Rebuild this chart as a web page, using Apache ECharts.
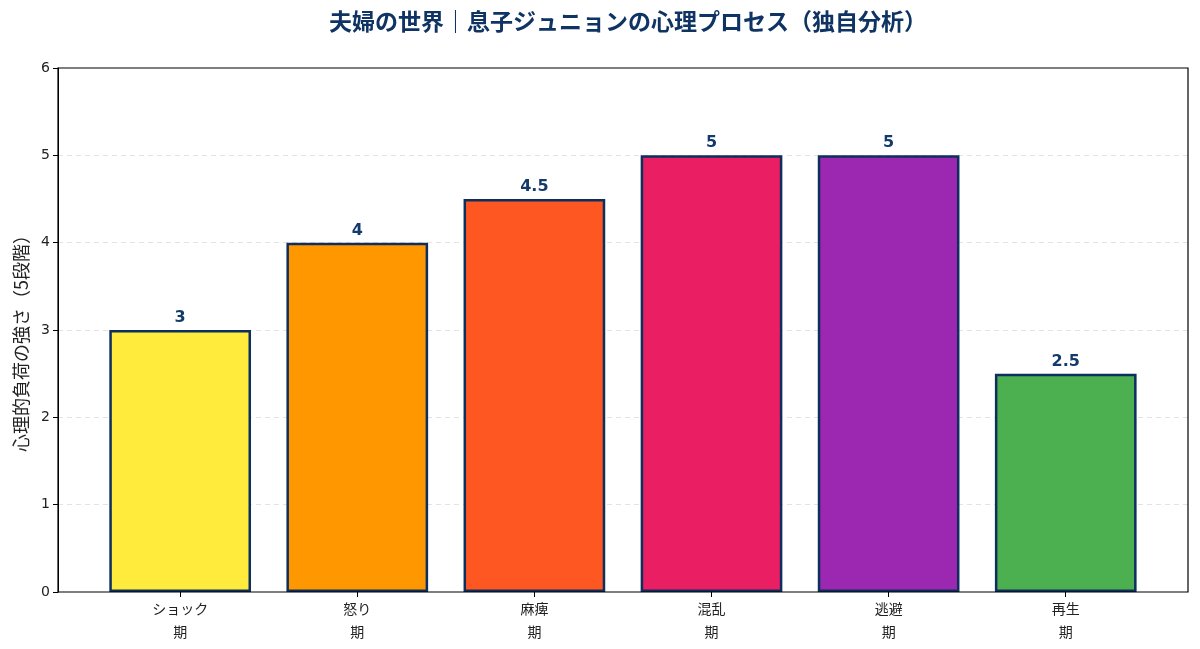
<!DOCTYPE html>
<html>
<head>
<meta charset="utf-8">
<script src="https://cdn.jsdelivr.net/npm/echarts@6/dist/echarts.min.js"></script>
<style>
  html, body { margin: 0; padding: 0; background: #fff; }
  #chart { width: 1200px; height: 649px; }
</style>
</head>
<body>
<div id="chart"></div>
<script>
// 各段階の名前と負荷の値
const stages = ['ショック\n期', '怒り\n期', '麻痺\n期', '混乱\n期', '逃避\n期', '再生\n期'];
const loads = [3, 4, 4.5, 5, 5, 2.5];
const barColors = ['#FFEB3B', '#FF9800', '#FF5722', '#E91E63', '#9C27B0', '#4CAF50'];
const yTicks = [0, 1, 2, 3, 4, 5, 6];

const FONT = '"Noto Sans CJK JP", "DejaVu Sans", sans-serif';
const NUM_FONT = '"DejaVu Sans", sans-serif';
const NAVY = '#0D2F5E';

const chart = echarts.init(document.getElementById('chart'));

chart.setOption({
  animation: false,
  textStyle: { fontFamily: FONT },
  title: {
    text: '夫婦の世界｜息子ジュニョンの心理プロセス（独自分析）',
    left: 623,
    textAlign: 'center',
    top: 5,
    textStyle: { fontSize: 23, fontWeight: 'bold', color: '#0F3463', fontFamily: FONT }
  },
  grid: [
    // 枠とY軸用
    { left: 58, right: 12, top: 68, bottom: 57, show: true, borderColor: '#000', borderWidth: 1.2, z: 10, outerBoundsMode: 'none' },
    // 棒グラフ用（matplotlibの余白に合わせる）
    { left: 91.6, right: 45.7, top: 68, bottom: 57, outerBoundsMode: 'none' }
  ],
  xAxis: [
    { gridIndex: 0, type: 'value', min: 0, max: 1, show: false },
    {
      gridIndex: 1,
      type: 'category',
      data: stages,
      axisLine: { show: false },
      axisTick: { show: true, alignWithLabel: true, length: 5, lineStyle: { color: '#000' } },
      axisLabel: { fontSize: 14, color: '#222', lineHeight: 23, margin: 5, fontFamily: FONT }
    }
  ],
  yAxis: [
    {
      gridIndex: 0,
      type: 'value',
      min: yTicks[0],
      max: yTicks[yTicks.length - 1],
      interval: 1,
      name: '心理的負荷の強さ（5段階）',
      nameLocation: 'middle',
      nameGap: 27,
      nameTextStyle: { fontSize: 18, color: '#222', fontFamily: FONT, padding: [0, 0, 0, -18] },
      axisLine: { show: true, lineStyle: { color: '#000' } },
      axisTick: { show: true, length: 5, lineStyle: { color: '#000' } },
      axisLabel: { fontSize: 14, color: '#222', margin: 8, fontFamily: NUM_FONT },
      splitLine: {
        show: true,
        showMinLine: false,
        showMaxLine: false,
        lineStyle: { color: '#e3e3e3', type: [5, 4], width: 1 }
      }
    },
    { gridIndex: 1, type: 'value', min: 0, max: 6, show: false }
  ],
  series: [{
    type: 'bar',
    xAxisIndex: 1,
    yAxisIndex: 1,
    barWidth: '80%',
    data: loads.map((v, i) => ({ value: v, itemStyle: { color: barColors[i] } })),
    itemStyle: { borderColor: NAVY, borderWidth: 2.5 },
    label: {
      show: true,
      position: 'top',
      distance: 4,
      fontSize: 16,
      fontWeight: 'bold',
      color: '#143A6B',
      fontFamily: NUM_FONT
    }
  }]
});
</script>
</body>
</html>
